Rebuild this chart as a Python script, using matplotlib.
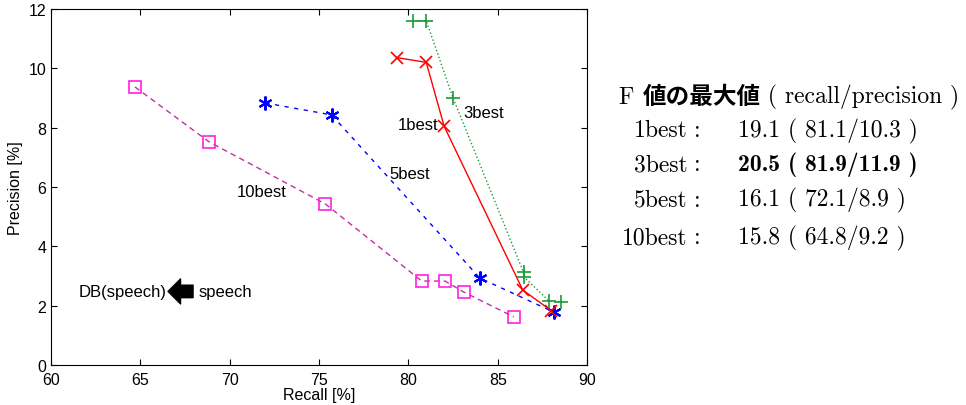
import matplotlib
matplotlib.use('Agg')
import matplotlib.pyplot as plt

# recall / precision for each n-best setting
r_1best = [79.35, 81.0, 82.0, 86.4, 88.0]
p_1best = [10.36, 10.2, 8.05, 2.53, 1.83]

r_3best = [80.25, 81.0, 82.5, 86.45, 86.45, 87.85, 88.55]
p_3best = [11.6, 11.6, 9.0, 3.12, 2.98, 2.17, 2.13]

r_5best = [72.0, 75.7, 84.0, 88.15]
p_5best = [8.83, 8.43, 2.93, 1.78]

r_10best = [64.7, 68.85, 75.35, 80.75, 82.05, 83.1, 85.9]
p_10best = [9.37, 7.52, 5.43, 2.83, 2.83, 2.46, 1.62]

table_names = ['1best', '3best', '5best', '10best']
table_vals = ['19.1 ( 81.1/10.3 )', '20.5 ( 81.9/11.9 )',
              '16.1 ( 72.1/8.9 )', '15.8 ( 64.8/9.2 )']

plt.rcParams['font.family'] = ['Liberation Sans', 'DejaVu Sans']

fig = plt.figure(figsize=(9.66, 4.06), dpi=100)
ax = fig.add_axes([0.0528, 0.0985, 0.5549, 0.877])

ax.plot(r_10best, p_10best, '--', color='#c030a0', lw=1.0, dashes=(4, 3))
ax.plot(r_10best, p_10best, 's', mfc='none', mec='#ff20e0', ms=8, mew=1.2)
ax.plot(r_5best, p_5best, '--', color='#0000ff', lw=1.0, dashes=(3, 4),
        marker=(6, 2, 0), ms=10, mfc='none', mec='#0000ff', mew=1.5)
ax.plot(r_1best, p_1best, '-', color='#ff0000', lw=1.0,
        marker='x', ms=8, mew=1.2)
ax.plot(r_3best, p_3best, ':', color='#1a9a3a', lw=1.0,
        marker='+', ms=10, mew=1.2)

ax.set_xlim(60, 90)
ax.set_ylim(0, 12)
ax.set_xticks(range(60, 91, 5))
ax.set_yticks(range(0, 13, 2))
ax.tick_params(direction='in', top=True, right=True, labelsize=11.5, length=4)
ax.tick_params(axis='x', pad=5)
ax.set_xlabel('Recall [%]', fontsize=11.5, labelpad=0)
ax.set_ylabel('Precision [%]', fontsize=11.5, labelpad=4)

ax.text(81.7, 8.1, '1best', fontsize=12, ha='right', va='center')
ax.text(83.05, 8.5, '3best', fontsize=12, ha='left', va='center')
ax.text(78.95, 6.44, '5best', fontsize=12, ha='left', va='center')
ax.text(70.4, 5.85, '10best', fontsize=12, ha='left', va='center')

ax.text(66.45, 2.48, 'DB(speech)', fontsize=12, ha='right', va='center')
ax.annotate('', xy=(66.55, 2.48), xytext=(67.95, 2.48),
            arrowprops=dict(arrowstyle='simple,head_width=1.8,head_length=0.9,tail_width=0.9',
                            fc='k', ec='k', shrinkA=0, shrinkB=0))
ax.text(68.25, 2.48, 'speech', fontsize=12, ha='left', va='center')

# right-hand table
fig.canvas.draw()
renderer = fig.canvas.get_renderer()


def put_pieces(x, y, pieces):
    # write text pieces one after another, each with its own font
    for s, fam, wt in pieces:
        t = fig.text(x, y, s, fontsize=17, family=fam, weight=wt, va='baseline')
        bb = t.get_window_extent(renderer)
        x = x + bb.width / fig.bbox.width


serif = ['cmr10', 'DejaVu Serif']
serif_b = ['cmb10', 'DejaVu Serif']
cjk = ['Noto Sans CJK JP']

put_pieces(0.641, 0.744, [('F ', serif, 'normal'), ('値の最大値', cjk, 'bold'),
                           (' ( recall/precision )', serif, 'normal')])

ys = [0.662, 0.578, 0.491, 0.398]
for name, val, y in zip(table_names, table_vals, ys):
    fam = serif_b if name == '3best' else serif
    fig.text(0.712, y, name, fontsize=17, family=serif, ha='right', va='baseline')
    fig.text(0.7215, y, ':', fontsize=17, family=serif, ha='center', va='baseline')
    fig.text(0.764, y, val, fontsize=17, family=fam, va='baseline')

fig.savefig('out.png', dpi=100)
